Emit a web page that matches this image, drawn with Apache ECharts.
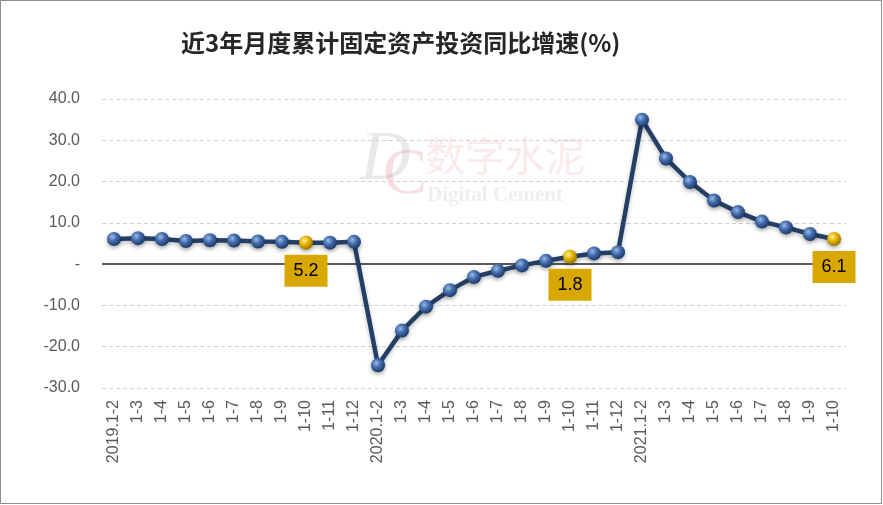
<!DOCTYPE html>
<html><head><meta charset="utf-8">
<script src="https://cdn.jsdelivr.net/npm/echarts@6/dist/echarts.min.js"></script>
<style>html,body{margin:0;padding:0;background:#fff}#c{width:883px;height:505px}</style>
</head><body><div id="c"></div>
<script>
const categories = ['2019.1-2','1-3','1-4','1-5','1-6','1-7','1-8','1-9','1-10','1-11','1-12',
  '2020.1-2','1-3','1-4','1-5','1-6','1-7','1-8','1-9','1-10','1-11','1-12',
  '2021.1-2','1-3','1-4','1-5','1-6','1-7','1-8','1-9','1-10'];
const values = [6.1,6.3,6.1,5.6,5.8,5.7,5.5,5.4,5.2,5.2,5.4,
  -24.5,-16.1,-10.3,-6.3,-3.1,-1.6,-0.3,0.8,1.8,2.6,2.9,
  35.0,25.6,19.9,15.4,12.6,10.3,8.9,7.3,6.1];
const highlightIdx = [8, 19, 30];
const yTicks = {min:-30, max:40, interval:10};
const title = '近3年月度累计固定资产投资同比增速(%)';

const blueBall = {type:'radial',x:0.38,y:0.35,r:0.65,colorStops:[
  {offset:0,color:'#9bbbe8'},{offset:0.45,color:'#4670b0'},{offset:1,color:'#1d3a6a'}]};
const goldBall = {type:'radial',x:0.38,y:0.35,r:0.65,colorStops:[
  {offset:0,color:'#fff2a0'},{offset:0.45,color:'#e9b900'},{offset:1,color:'#9a7400'}]};

const data = values.map((v,i)=>{
  if(highlightIdx.includes(i)){
    return {value:v, itemStyle:{color:goldBall},
      label:{show:true, position:'bottom', distance:5, formatter:p=>p.value.toFixed(1),
        backgroundColor:'#d8a800', color:'#000', fontSize:18, padding:[7,9],
        fontFamily:'Liberation Sans'}};
  }
  return v;
});

const chart = echarts.init(document.getElementById('c'));
chart.setOption({
  backgroundColor:'#fff',
  animation:false,
  title:{text:title, left:176, top:26, textStyle:{fontSize:24, fontWeight:'bold', color:'#262626', fontFamily:'Noto Sans CJK SC'}},
  graphic:[
    {type:'rect', z:-10, shape:{x:0.5, y:0.5, width:881, height:503}, style:{fill:'none', stroke:'#8c8c8c', lineWidth:1}},
    {type:'text', left:360, top:126, z:-5, style:{text:'D', fontSize:70, fontFamily:'Liberation Serif', fontStyle:'italic', fill:'rgba(200,200,200,0.4)'}},
    {type:'text', left:383, top:143, z:-5, style:{text:'C', fontSize:66, fontFamily:'Liberation Serif', fill:'rgba(230,150,150,0.3)'}},
    {type:'text', left:425, top:136, z:-5, style:{text:'数字水泥', fontSize:40, fontFamily:'Noto Sans CJK SC', fill:'rgba(235,170,170,0.25)'}},
    {type:'text', left:427, top:185, z:-5, style:{text:'Digital Cement', fontSize:21, fontWeight:'bold', fontFamily:'Liberation Serif', fill:'rgba(200,200,200,0.3)'}}
  ],
  grid:{left:102, right:37, top:99, bottom:117},
  xAxis:{type:'category', data:categories, boundaryGap:true,
    axisLine:{show:false, onZero:false}, axisTick:{show:false},
    axisLabel:{rotate:90, margin:12, fontSize:16, color:'#595959', fontFamily:'Liberation Sans', interval:0}},
  yAxis:{type:'value', min:yTicks.min, max:yTicks.max, interval:yTicks.interval,
    axisLine:{show:false}, axisTick:{show:false},
    splitLine:{lineStyle:{type:[4,3], color:'#d0d0d0', width:1}},
    axisLabel:{margin:22, fontSize:16, color:'#595959', fontFamily:'Liberation Sans',
      formatter:v=> v===0 ? '-' : v.toFixed(1)}},
  series:[{type:'line', data:data, symbol:'circle', symbolSize:14,
    lineStyle:{color:'#243f66', width:4.5, shadowColor:'rgba(0,0,0,0.25)', shadowBlur:4, shadowOffsetY:2},
    itemStyle:{color:blueBall, shadowColor:'rgba(0,0,0,0.35)', shadowBlur:4, shadowOffsetY:2},
    z:3,
    markLine:{silent:true, symbol:'none', label:{show:false}, z:1,
      lineStyle:{color:'#595959', width:2, type:'solid'}, data:[{yAxis:0}]}
  }]
});
</script></body></html>
